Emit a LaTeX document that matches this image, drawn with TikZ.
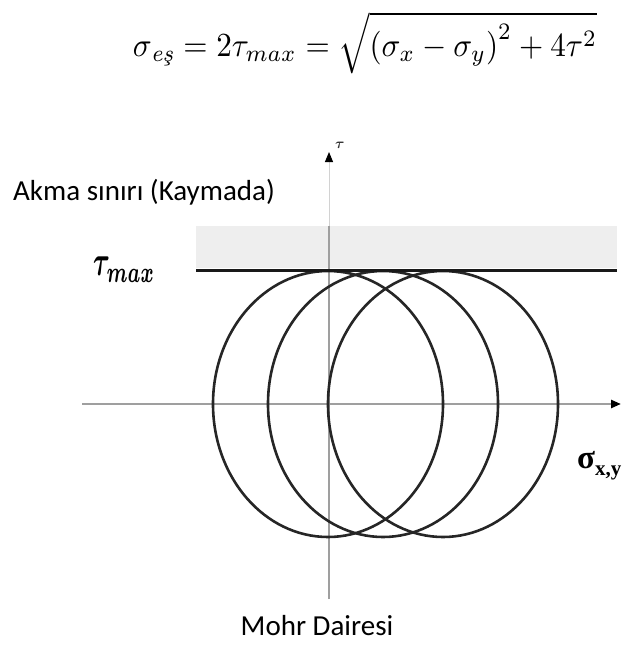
\documentclass[tikz,border=0pt]{standalone}
\usepackage{amsmath}
\usepackage{fontspec}
\newfontfamily\calibri{Carlito}
\newfontfamily\timesf{Liberation Serif}
\usetikzlibrary{arrows.meta}
\begin{document}
\begin{tikzpicture}[x=1pt,y=-1pt,
  axisline/.style={draw=gray!75, line width=2.4pt},
  thinaxis/.style={draw=gray!35, line width=1pt},
  mohr/.style={draw=black!85, line width=2.6pt},
  limitline/.style={draw=black!90, line width=3pt},
  band/.style={fill=gray!13},
  lbl/.style={font=\calibri\fontsize{29}{34}\selectfont, inner sep=0pt},
  tip/.style={-{Triangle[length=10pt,width=8pt,color=black]}}]
\useasboundingbox (0,0) rectangle (622,645);
% formula
\node[inner sep=0pt] (formula) at (365,43) {\resizebox*{464pt}{62pt}{$\sigma_{\textit{e\c{s}}}=2\tau_{max}=\sqrt{\left(\sigma_x-\sigma_y\right)^2+4\tau^2}$}};
% shaded band
\fill[band] (196,226) rectangle (617,268);
% axes
\coordinate (xl) at (82,404);
\coordinate (xr) at (621,404);
\coordinate (yb) at (329,599);
\coordinate (yband) at (329,226);
\coordinate (yt) at (329,152);
\draw[axisline, tip] (xl) -- (xr);
\draw[axisline] (yb) -- (yband);
\draw[thinaxis, tip] (yband) -- (yt);
% Mohr circles
\coordinate (c1) at (328,404);
\coordinate (c2) at (383,404);
\coordinate (c3) at (443,404);
\draw[mohr] (c1) ellipse [x radius=115pt, y radius=133pt];
\draw[mohr] (c2) ellipse [x radius=115pt, y radius=133pt];
\draw[mohr] (c3) ellipse [x radius=115pt, y radius=133pt];
% tau max line
\coordinate (tl) at (196,270);
\coordinate (tr) at (617,270);
\draw[limitline] (tl) -- (tr);
% labels
\node[lbl, anchor=base west] (akma) at (13,200) {Akma sınırı (Kaymada)};
\node[lbl, anchor=base] (mohrlbl) at (317,635) {Mohr Dairesi};
\node[inner sep=0pt, anchor=north west] (taumax) at (93,257) {\resizebox*{62pt}{25pt}{$\boldsymbol{\tau_{max}}$}};
\node[inner sep=0pt, anchor=base west, font=\timesf\bfseries\fontsize{33}{38}\selectfont] (sigxy) at (577,468) {σ\raisebox{-7pt}{\fontsize{21}{24}\selectfont x,y}};
\node[inner sep=0pt, anchor=base west, font=\fontsize{15}{17}\selectfont, text=black!80] (taulbl) at (335,148) {$\boldsymbol{\tau}$};
\end{tikzpicture}
\end{document}
